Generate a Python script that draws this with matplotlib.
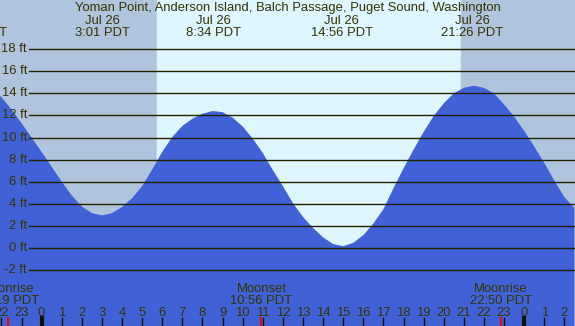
import matplotlib
matplotlib.use('Agg')
import matplotlib.pyplot as plt
import matplotlib.transforms as mtransforms
import numpy as np

# tide height (ft) every half hour, hours from midnight Jul 26
tide_hours = np.arange(-2.5, 27.0, 0.5)
tide_ft = [14.4, 13.65, 12.55, 11.3, 10.0, 8.7, 7.35, 6.0, 4.75, 3.75, 3.15,
           2.94, 3.15, 3.7, 4.5, 5.6, 7.1, 8.7, 10.05, 11.05, 11.7, 12.15, 12.4,
           12.3, 11.8, 11.0, 9.9, 8.6, 7.05, 5.6, 4.05, 2.8, 1.8, 0.95, 0.35,
           0.15, 0.45, 1.15, 2.2, 3.5, 5.4, 7.2, 8.9, 10.5, 11.95, 13.1, 14.0,
           14.5, 14.7, 14.5, 14.0, 13.0, 11.9, 10.6, 9.2, 7.7, 6.1, 4.6, 3.6]

# high / low events shown on top
event_hours = [-3.25, 3.017, 8.567, 14.933, 21.433]
event_dates = ['Jul 25', 'Jul 26', 'Jul 26', 'Jul 26', 'Jul 26']
event_times = ['20:45 PDT', '3:01 PDT', '8:34 PDT', '14:56 PDT', '21:26 PDT']

# moon events shown at the bottom
moon_hours = [-1.683, 10.933, 22.833]
moon_names = ['Moonrise', 'Moonset', 'Moonrise']
moon_times = ['22:19 PDT', '10:56 PDT', '22:50 PDT']

sunrise = 5.72
sunset = 20.85
levels = [-2, 0, 2, 4, 6, 8, 10, 12, 14, 16, 18]
hours = np.arange(-2, 27)

title = 'Yoman Point, Anderson Island, Balch Passage, Puget Sound, Washington'

W, H = 575, 326
txtcol = '#333300'
fs = 9.4
plt.rcParams['font.family'] = ['Liberation Sans', 'DejaVu Sans']

fig = plt.figure(figsize=(W / 100, H / 100), dpi=100)
ax = fig.add_axes([0, 0, 1, 1])
ax.axis('off')

x0 = -2.07
x1 = 26.53
y0 = -7.08
y1 = 22.46
ax.set_xlim(x0, x1)
ax.set_ylim(y0, y1)

# night / day background
ax.axvspan(x0, sunrise, color='#b0c4de', zorder=0)
ax.axvspan(sunrise, sunset, color='#ddf6ff', zorder=0)
ax.axvspan(sunset, x1, color='#b0c4de', zorder=0)

# water
ax.fill_between(tide_hours, tide_ft, y0, color='#4161d7', lw=0, zorder=1)

# grid lines and labels
ytrans = mtransforms.blended_transform_factory(ax.transAxes, ax.transData)
for lv in levels:
    ax.axhline(lv, xmin=29.3 / W, xmax=1, color='#222200', lw=1.0, zorder=2)
    ax.text(27.0 / W, lv, '%d ft' % lv, transform=ytrans,
            ha='right', va='center', fontsize=fs, color=txtcol, zorder=3)

trans = mtransforms.blended_transform_factory(ax.transData, ax.transAxes)

def ypix(p):
    return 1 - p / H

ax.text(0.5, ypix(11), title, transform=ax.transAxes, ha='center', va='baseline',
        fontsize=fs, color=txtcol, zorder=3)
for t, d, s in zip(event_hours, event_dates, event_times):
    ax.text(t, ypix(23.5), d, transform=trans, ha='center', va='baseline', fontsize=fs, color=txtcol)
    ax.text(t, ypix(35.5), s, transform=trans, ha='center', va='baseline', fontsize=fs, color=txtcol)

for t, n, s in zip(moon_hours, moon_names, moon_times):
    ax.text(t, ypix(291.5), n, transform=trans, ha='center', va='baseline', fontsize=fs, color=txtcol, zorder=3)
    ax.text(t, ypix(303.5), s, transform=trans, ha='center', va='baseline', fontsize=fs, color=txtcol, zorder=3)
    ax.plot([t, t], [ypix(318), ypix(326)], transform=trans, color='red', lw=1.4, zorder=4)

# hour ticks
for h in hours:
    lab = str(h % 24)
    ax.text(h, ypix(315.5), lab, transform=trans, ha='center', va='baseline', fontsize=fs, color=txtcol, zorder=3)
    w = 3.0 if h % 24 == 0 else 1.0
    ax.plot([h, h], [ypix(318), ypix(326)], transform=trans, color='#111100', lw=w, zorder=4)

fig.savefig('out.png', dpi=100)
